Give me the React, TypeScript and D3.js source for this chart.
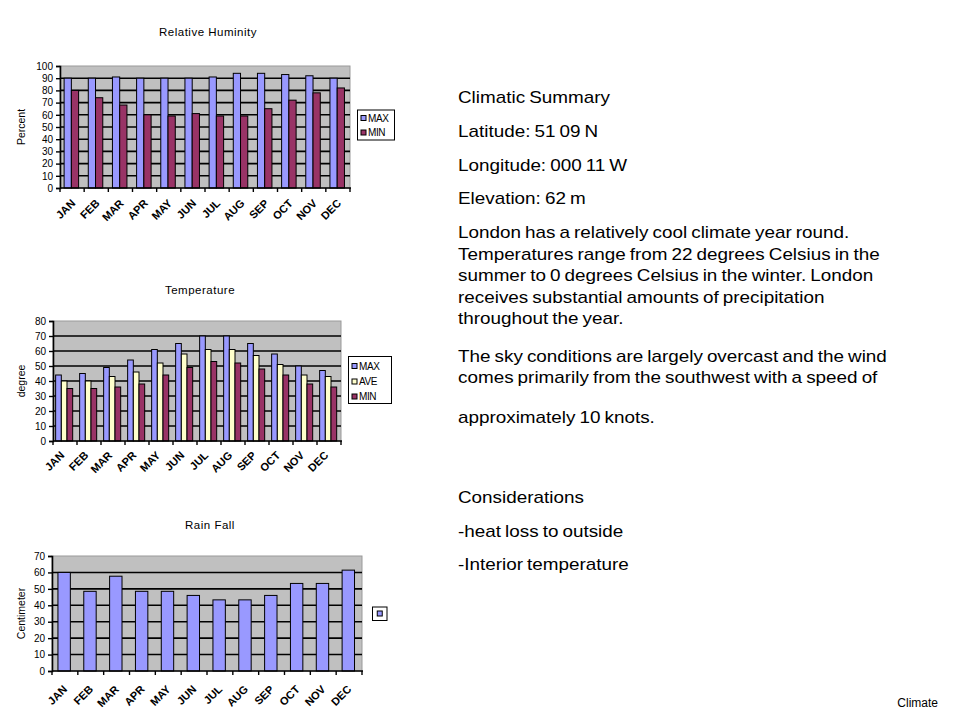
import { useEffect, useRef } from "react";
import * as d3 from "d3";

// ---- data ----
const months = ["JAN", "FEB", "MAR", "APR", "MAY", "JUN", "JUL", "AUG", "SEP", "OCT", "NOV", "DEC"];

const humidityMax = [90, 90, 91, 90, 90, 90, 91, 94, 94, 93, 92, 90];
const humidityMin = [80, 74, 68, 60, 59, 61, 59, 59, 65, 72, 78, 82];
const humidityTicks = [0, 10, 20, 30, 40, 50, 60, 70, 80, 90, 100];

const tempMax = [44, 45, 49, 54, 61, 65, 70, 70, 65, 58, 50, 47];
const tempAve = [40, 40, 43, 46, 52, 58, 61, 61, 57, 51, 44, 43];
const tempMin = [35, 35, 36, 38, 44, 49, 53, 52, 48, 44, 38, 36];
const tempTicks = [0, 10, 20, 30, 40, 50, 60, 70, 80];

const rainFall = [60, 48.5, 57.7, 48.5, 48.5, 46, 43.3, 43.3, 46, 53.3, 53.3, 61.4];
const rainTicks = [0, 10, 20, 30, 40, 50, 60, 70];

const summaryLines = [
  { text: "Climatic Summary", y: 103 },
  { text: "Latitude: 51 09 N", y: 137 },
  { text: "Longitude: 000 11 W", y: 170.5 },
  { text: "Elevation: 62 m", y: 204 },
  { text: "London has a relatively cool climate year round.", y: 238 },
  { text: "Temperatures range from 22 degrees Celsius in the", y: 259.5 },
  { text: "summer to 0 degrees Celsius in the winter. London", y: 281 },
  { text: "receives substantial amounts of precipitation", y: 302.5 },
  { text: "throughout the year.", y: 324 },
  { text: "The sky conditions are largely overcast and the wind", y: 361.5 },
  { text: "comes primarily from the southwest with a speed of", y: 383 },
  { text: "approximately 10 knots.", y: 423 },
  { text: "Considerations", y: 503 },
  { text: "-heat loss to outside", y: 536.5 },
  { text: "-Interior temperature", y: 570 },
];

const COLOR_MAX = "#9999ff";
const COLOR_AVE = "#ffffcc";
const COLOR_MIN = "#993366";
const FONT = "Arial, 'Liberation Sans', sans-serif";

interface Series {
  name: string;
  values: number[];
  color: string;
}

interface ChartConfig {
  title: string;
  titleY: number;
  yLabel: string;
  left: number;
  right: number;
  top: number;
  bottom: number;
  ticks: number[];
  series: Series[];
  group: [number, number]; // fraction of category used by the bar group
  labelOffset: [number, number];
  legend: { x: number; y: number; w: number; h: number; rowY: number[]; showText: boolean };
}

const charts: ChartConfig[] = [
  {
    title: "Relative Huminity",
    titleY: 36,
    yLabel: "Percent",
    left: 60, right: 350, top: 66, bottom: 188,
    ticks: humidityTicks,
    series: [
      { name: "MAX", values: humidityMax, color: COLOR_MAX },
      { name: "MIN", values: humidityMin, color: COLOR_MIN },
    ],
    group: [0.17, 0.77],
    labelOffset: [4, 16],
    legend: { x: 357.5, y: 110, w: 37, h: 30, rowY: [118, 132.5], showText: true },
  },
  {
    title: "Temperature",
    titleY: 294,
    yLabel: "degree",
    left: 53, right: 341, top: 321, bottom: 441,
    ticks: tempTicks,
    series: [
      { name: "MAX", values: tempMax, color: COLOR_MAX },
      { name: "AVE", values: tempAve, color: COLOR_AVE },
      { name: "MIN", values: tempMin, color: COLOR_MIN },
    ],
    group: [0.11, 0.82],
    labelOffset: [0, 15],
    legend: { x: 348.5, y: 356.5, w: 43, h: 47, rowY: [366, 381.5, 396.5], showText: true },
  },
  {
    title: "Rain Fall",
    titleY: 529,
    yLabel: "Centimeter",
    left: 52, right: 362, top: 556, bottom: 671,
    ticks: rainTicks,
    series: [{ name: "", values: rainFall, color: COLOR_MAX }],
    group: [0.23, 0.71],
    labelOffset: [3, 19],
    legend: { x: 372.5, y: 607, w: 14.5, h: 13.5, rowY: [613.5], showText: false },
  },
];

function drawChart(root: d3.Selection<SVGGElement, unknown, null, undefined>, c: ChartConfig) {
  const g = root.append("g");

  const x = d3.scaleBand<string>().domain(months).range([c.left, c.right]);
  const y = d3
    .scaleLinear()
    .domain([0, c.ticks[c.ticks.length - 1]])
    .range([c.bottom, c.top]);
  const sub = d3
    .scaleBand<string>()
    .domain(c.series.map((s) => s.name))
    .range([x.bandwidth() * c.group[0], x.bandwidth() * c.group[1]]);

  // plot area
  g.append("rect")
    .attr("x", c.left)
    .attr("y", c.top)
    .attr("width", c.right - c.left)
    .attr("height", c.bottom - c.top)
    .attr("fill", "#c0c0c0")
    .attr("stroke", "#9a9a9a")
    .attr("stroke-width", 1);

  // gridlines
  g.selectAll(".grid")
    .data(c.ticks.filter((t) => t > 0 && t < c.ticks[c.ticks.length - 1]))
    .enter()
    .append("line")
    .attr("x1", c.left)
    .attr("x2", c.right)
    .attr("y1", (d) => y(d))
    .attr("y2", (d) => y(d))
    .attr("stroke", "#000")
    .attr("stroke-width", 1.6);

  // bars
  c.series.forEach((s) => {
    g.selectAll(null)
      .data(s.values)
      .enter()
      .append("rect")
      .attr("x", (_, i) => (x(months[i]) as number) + (sub(s.name) as number))
      .attr("y", (d) => y(d))
      .attr("width", sub.bandwidth())
      .attr("height", (d) => c.bottom - y(d))
      .attr("fill", s.color)
      .attr("stroke", "#000")
      .attr("stroke-width", 1);
  });

  // y axis
  const yAxis = g
    .append("g")
    .attr("transform", `translate(${c.left},0)`)
    .call(d3.axisLeft(y).tickValues(c.ticks).tickSize(4).tickPadding(3).tickFormat(d3.format("d")));
  yAxis.select(".domain").attr("stroke", "#000").attr("stroke-width", 1.6);
  yAxis.selectAll(".tick line").attr("stroke", "#000").attr("stroke-width", 1.4);
  yAxis.selectAll("text").attr("font-family", FONT).attr("font-size", 10).attr("fill", "#000");

  // x axis: line plus ticks on category boundaries
  g.append("line")
    .attr("x1", c.left)
    .attr("x2", c.right + 1)
    .attr("y1", c.bottom)
    .attr("y2", c.bottom)
    .attr("stroke", "#000")
    .attr("stroke-width", 1.6);
  const boundaries = months.map((m) => x(m) as number).concat([c.right]);
  g.selectAll(null)
    .data(boundaries)
    .enter()
    .append("line")
    .attr("x1", (d) => d)
    .attr("x2", (d) => d)
    .attr("y1", c.bottom)
    .attr("y2", c.bottom + 4)
    .attr("stroke", "#000")
    .attr("stroke-width", 1.4);

  g.selectAll(null)
    .data(months)
    .enter()
    .append("text")
    .attr(
      "transform",
      (d) =>
        `translate(${(x(d) as number) + x.bandwidth() / 2 + c.labelOffset[0]},${c.bottom + c.labelOffset[1]}) rotate(-45)`
    )
    .attr("text-anchor", "end")
    .attr("font-family", FONT)
    .attr("font-size", 11)
    .attr("font-weight", "bold")
    .attr("fill", "#000")
    .text((d) => d);

  // title
  g.append("text")
    .attr("x", (c.left + c.right) / 2 + 3)
    .attr("y", c.titleY)
    .attr("text-anchor", "middle")
    .attr("font-family", FONT)
    .attr("font-size", 11.5)
    .attr("letter-spacing", 0.5)
    .attr("fill", "#000")
    .text(c.title);

  // y label
  g.append("text")
    .attr("transform", `translate(${25},${(c.top + c.bottom) / 2}) rotate(-90)`)
    .attr("text-anchor", "middle")
    .attr("font-family", FONT)
    .attr("font-size", 10.5)
    .attr("fill", "#000")
    .text(c.yLabel);

  // legend
  const L = c.legend;
  g.append("rect")
    .attr("x", L.x)
    .attr("y", L.y)
    .attr("width", L.w)
    .attr("height", L.h)
    .attr("fill", "#fff")
    .attr("stroke", "#000")
    .attr("stroke-width", 1);
  c.series.forEach((s, i) => {
    const sx = L.showText ? L.x + 3.5 : L.x + (L.w - 5) / 2;
    g.append("rect")
      .attr("x", sx)
      .attr("y", L.rowY[i] - 2.5)
      .attr("width", 5)
      .attr("height", 5)
      .attr("fill", s.color)
      .attr("stroke", "#000")
      .attr("stroke-width", 1);
    if (L.showText) {
      g.append("text")
        .attr("x", sx + 7)
        .attr("y", L.rowY[i] + 3.5)
        .attr("font-family", FONT)
        .attr("font-size", 10)
        .attr("letter-spacing", -0.4)
        .attr("fill", "#000")
        .text(s.name);
    }
  });
}

const App = () => {
  const gRef = useRef<SVGGElement | null>(null);

  useEffect(() => {
    const root = d3.select(gRef.current as SVGGElement);
    charts.forEach((c) => drawChart(root, c));
    return () => {
      root.selectAll("*").remove();
    };
  }, []);

  return (
    <svg
      width={960}
      height={720}
      style={{ position: "absolute", left: 0, top: 0, background: "#fff" }}
    >
      <rect width={960} height={720} fill="#fff" />
      <g ref={gRef}></g>
      {/* the slide text is a little stretched horizontally in the reference */}
      {summaryLines.map((l, i) => (
        <text
          key={i}
          transform={`translate(458,${l.y}) scale(1.18,1)`}
          fontFamily={FONT}
          fontSize={16}
          wordSpacing={-1}
          fill="#000"
        >
          {l.text}
        </text>
      ))}
      <text x={938} y={707} textAnchor="end" fontFamily={FONT} fontSize={12} fill="#000">
        Climate
      </text>
    </svg>
  );
};

export default App;
